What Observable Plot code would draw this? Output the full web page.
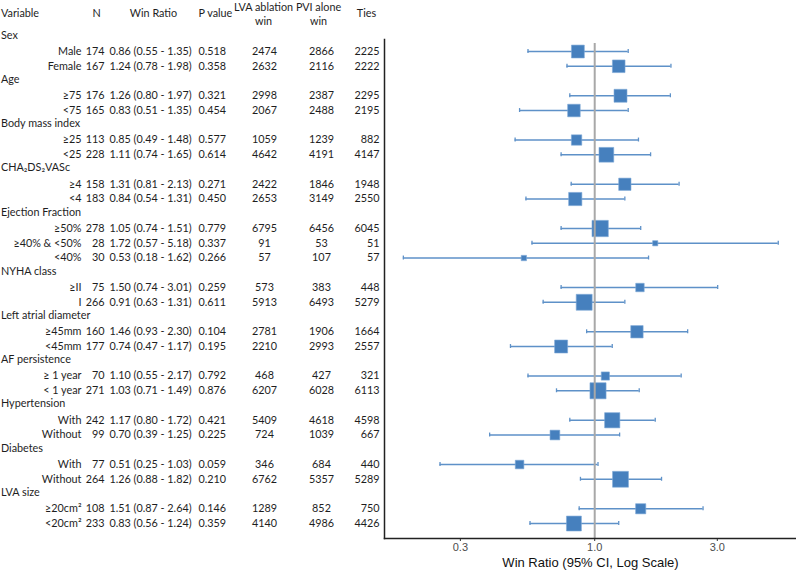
<!DOCTYPE html>
<html><head><meta charset="utf-8">
<script src="https://cdn.jsdelivr.net/npm/d3@7"></script>
<script src="https://cdn.jsdelivr.net/npm/@observablehq/plot@0.6"></script>
<style>
body{margin:0;background:#fff;}
#chart{position:relative;width:796px;height:570px;overflow:hidden;background:#fff;}
#chart svg{position:absolute;top:0;}
</style></head><body><div id="chart"></div>
<script>
// ---- data ----
const groupNames = ["Sex","Age","Body mass index","CHA₂DS₂VASc","Ejection Fraction","NYHA class","Left atrial diameter","AF persistence","Hypertension","Diabetes","LVA size"];
const subgroupGroup = [0,0,1,1,2,2,3,3,4,4,4,5,5,6,6,7,7,8,8,9,9,10,10];
const subgroupLabels = ["Male","Female","≥75","<75","≥25","<25","≥4","<4","≥50%","≥40% & <50%","<40%","≥II","I","≥45mm","<45mm","≥ 1 year","< 1 year","With","Without","With","Without","≥20cm²","<20cm²"];
const nValues = [174,167,176,165,113,228,158,183,278,28,30,75,266,160,177,70,271,242,99,77,264,108,233];
const winRatio = [0.86,1.24,1.26,0.83,0.85,1.11,1.31,0.84,1.05,1.72,0.53,1.50,0.91,1.46,0.74,1.10,1.03,1.17,0.70,0.51,1.26,1.51,0.83];
const ciLower = [0.55,0.78,0.80,0.51,0.49,0.74,0.81,0.54,0.74,0.57,0.18,0.74,0.63,0.93,0.47,0.55,0.71,0.80,0.39,0.25,0.88,0.87,0.56];
const ciUpper = [1.35,1.98,1.97,1.35,1.48,1.65,2.13,1.31,1.51,5.18,1.62,3.01,1.31,2.30,1.17,2.17,1.49,1.72,1.25,1.03,1.82,2.64,1.24];
const pValues = ["0.518","0.358","0.321","0.454","0.577","0.614","0.271","0.450","0.779","0.337","0.266","0.259","0.611","0.104","0.195","0.792","0.876","0.421","0.225","0.059","0.210","0.146","0.359"];
const lvaWins = [2474,2632,2998,2067,1059,4642,2422,2653,6795,91,57,573,5913,2781,2210,468,6207,5409,724,346,6762,1289,4140];
const pviWins = [2866,2116,2387,2488,1239,4191,1846,3149,6456,53,107,383,6493,1906,2993,427,6028,4618,1039,684,5357,852,4986];
const tieCounts = [2225,2222,2295,2195,882,4147,1948,2550,6045,51,57,448,5279,1664,2557,321,6113,4598,667,440,5289,750,4426];
const headerLabels = ["Variable","N","Win Ratio","P value","LVA ablation\nwin","PVI alone\nwin","Ties"];
const xTicks = [0.3, 1.0, 3.0];
const xTitle = "Win Ratio (95% CI, Log Scale)";

// ---- rows ----
const f2 = d3.format(".2f");
const rows = [];
groupNames.forEach((g, gi) => {
  rows.push({key: "g" + gi, group: g, header: true});
  subgroupLabels.forEach((s, i) => {
    if (subgroupGroup[i] === gi) rows.push({
      key: "s" + i, label: s, n: nValues[i], wr: winRatio[i], lo: ciLower[i], hi: ciUpper[i],
      nText: String(nValues[i]), p: pValues[i],
      lva: String(lvaWins[i]), pvi: String(pviWins[i]), ties: String(tieCounts[i]),
      wrText: `${f2(winRatio[i])} (${f2(ciLower[i])} - ${f2(ciUpper[i])})`
    });
  });
});
const rowKeys = rows.map(d => d.key);
const subRows = rows.filter(d => !d.header);
const headRows = rows.filter(d => d.header);

const yScale = {type: "band", domain: rowKeys, range: [28.9, 530.4], padding: 0, round: false, axis: null};
const tableFont = "Lato, 'Open Sans', sans-serif";
const cols = ["label","n","wr","p","lva","pvi","ties"];
const col = c => () => c;

// ---- table ----
const table = Plot.plot({
  width: 384, height: 570, margin: 0,
  style: {fontFamily: tableFont, fontSize: "10.8px", color: "#1e1e1e", background: "transparent"},
  x: {type: "point", domain: cols, range: [85, 379], padding: 0, round: false, axis: null},
  y: yScale,
  marks: [
    Plot.text(headRows, {y: "key", text: "group", frameAnchor: "left", textAnchor: "start", dx: 0.5, dy: -1.5}),
    Plot.text(subRows, {x: col("label"), y: "key", text: "label", textAnchor: "end", dx: -4}),
    Plot.text(subRows, {x: col("n"), y: "key", text: "nText", textAnchor: "end", dx: -30}),
    Plot.text(subRows, {x: col("wr"), y: "key", text: "wrText", textAnchor: "start", dx: -74}),
    Plot.text(subRows, {x: col("p"), y: "key", text: "p", textAnchor: "start", dx: -34}),
    Plot.text(subRows, {x: col("lva"), y: "key", text: "lva", textAnchor: "middle", dx: -17}),
    Plot.text(subRows, {x: col("pvi"), y: "key", text: "pvi", textAnchor: "middle", dx: -9}),
    Plot.text(subRows, {x: col("ties"), y: "key", text: "ties", textAnchor: "end"}),
    // column headers
    Plot.text([headerLabels[0]], {frameAnchor: "top-left", text: d => d, textAnchor: "start", lineAnchor: "middle", dy: 13, dx: 0.5}),
    Plot.text([headerLabels[1]], {x: col("n"), frameAnchor: "top", text: d => d, textAnchor: "middle", lineAnchor: "middle", dy: 13, dx: -38}),
    Plot.text([headerLabels[2]], {x: col("wr"), frameAnchor: "top", text: d => d, textAnchor: "middle", lineAnchor: "middle", dy: 13, dx: -30}),
    Plot.text([headerLabels[3]], {x: col("p"), frameAnchor: "top", text: d => d, textAnchor: "start", lineAnchor: "middle", dy: 13, dx: -34}),
    Plot.text([headerLabels[4]], {x: col("lva"), frameAnchor: "top", text: d => d, textAnchor: "middle", lineAnchor: "middle", dy: 13, dx: -18, lineHeight: 1.3}),
    Plot.text([headerLabels[5]], {x: col("pvi"), frameAnchor: "top", text: d => d, textAnchor: "middle", lineAnchor: "middle", dy: 13, dx: -12, lineHeight: 1.3}),
    Plot.text([headerLabels[6]], {x: col("ties"), frameAnchor: "top", text: d => d, textAnchor: "middle", lineAnchor: "middle", dy: 13, dx: -13})
  ]
});
table.style.left = "0px";

// ---- forest ----
const squareColor = "#4680BE";
const whiskerColor = "#5E91C8";
const forest = Plot.plot({
  width: 416, height: 570, marginLeft: 4, marginRight: 0, marginTop: 39, marginBottom: 32,
  style: {fontFamily: "'Liberation Sans', Arial, sans-serif", fontSize: "11px", background: "transparent"},
  x: {type: "log", domain: [0.152, 6.1]},
  y: yScale,
  r: {type: "sqrt", domain: [0, 278], range: [0, 9.2]},
  marks: [
    Plot.ruleY(subRows, {y: "key", x1: "lo", x2: "hi", stroke: whiskerColor, strokeWidth: 1.4}),
    Plot.tickX(subRows, {x: "lo", y: "key", stroke: whiskerColor, strokeWidth: 1.3, insetTop: 5.4, insetBottom: 5.4}),
    Plot.tickX(subRows, {x: "hi", y: "key", stroke: whiskerColor, strokeWidth: 1.3, insetTop: 5.4, insetBottom: 5.4}),
    Plot.dot(subRows, {x: "wr", y: "key", r: "n", symbol: "square", fill: squareColor, stroke: "#7FA9D6", strokeWidth: 0.6}),
    Plot.ruleX([1], {stroke: "#A8A8A8", strokeWidth: 2, insetTop: 4}),
    Plot.axisX({ticks: xTicks, tickFormat: d3.format(".1f"), tickSize: 3, tickPadding: 2, stroke: "#333", fill: "#4d4d4d", fontSize: 11, label: null}),
    Plot.text([xTitle], {frameAnchor: "bottom", text: d => d, dy: 24, lineAnchor: "middle", fontSize: 13, fill: "#111"}),
    Plot.frame({anchor: "left", stroke: "#222", strokeWidth: 1.5}),
    Plot.frame({anchor: "bottom", stroke: "#222", strokeWidth: 1.5})
  ]
});
forest.style.left = "380px";

const chart = document.getElementById("chart");
chart.append(table, forest);
</script></body></html>
